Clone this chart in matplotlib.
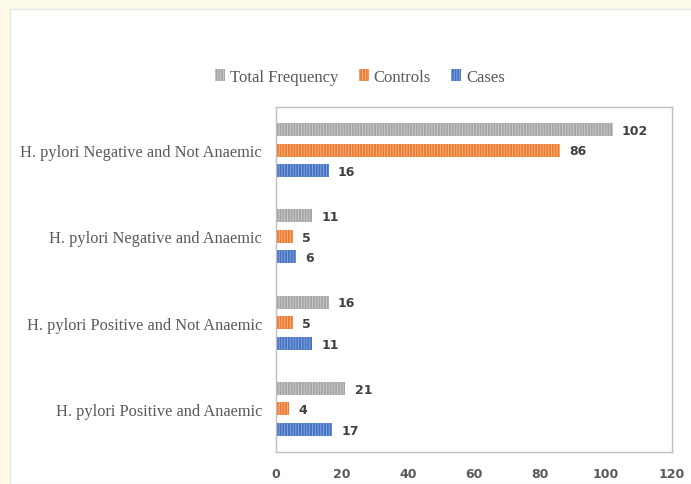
import numpy as np
import matplotlib.pyplot as plt
from matplotlib.patches import Rectangle

categories = ['H. pylori Negative and Not Anaemic',
              'H. pylori Negative and Anaemic',
              'H. pylori Positive and Not Anaemic',
              'H. pylori Positive and Anaemic']
total_freq = [102, 11, 16, 21]
controls = [86, 5, 5, 4]
cases = [16, 6, 11, 17]
xticks = [0, 20, 40, 60, 80, 100, 120]

fig = plt.figure(figsize=(6.91, 4.85), dpi=100)
fig.patch.set_facecolor('#FFFBE9')
fig.patches.append(Rectangle((10 / 691, 0), 1.0, 1 - 10 / 485, transform=fig.transFigure,
                             facecolor='white', edgecolor='#E6E6E6', linewidth=1, zorder=-5))

ax = fig.add_axes([276 / 691, 1 - 453 / 485, (672 - 276) / 691, (453 - 108) / 485])
ax.set_facecolor('white')

y = np.arange(len(categories))
h = 0.15
off = 0.238
plt.rcParams['hatch.linewidth'] = 0.6
series = [
    (total_freq, -off, '#A5A5A5', '#D0D0D0', 'Total Frequency'),
    (controls, 0, '#ED7D31', '#F6B78E', 'Controls'),
    (cases, off, '#4472C4', '#93AEE0', 'Cases'),
]
handles = []
for vals, o, col, hcol, lab in series:
    bars = ax.barh(y + o, vals, height=h, color=col, edgecolor=hcol, hatch='||||||', linewidth=0, label=lab)
    handles.append(bars)
    for yi, v in zip(y + o, vals):
        ax.text(v + 2.8, yi + 0.01, str(v), va='center', ha='left', fontsize=9, fontweight='bold',
                color='#404040', family='DejaVu Sans')

ax.set_ylim(len(categories) - 0.5, -0.5)
ax.set_xlim(0, 120)
ax.set_yticks(y)
ax.set_yticklabels(categories, family='Liberation Serif', fontsize=11.8, color='#595959')
ax.set_xticks(xticks)
ax.set_xticklabels([str(t) for t in xticks], family='DejaVu Sans', fontsize=9,
                   fontweight='bold', color='#595959')
ax.tick_params(axis='both', length=0)
ax.tick_params(axis='x', pad=11)
ax.tick_params(axis='y', pad=10)
for s in ax.spines.values():
    s.set_color('#BFBFBF')
    s.set_linewidth(1)

leg = fig.legend(handles=handles, loc='center', bbox_to_anchor=(360 / 691, 1 - 78 / 485), ncol=3,
                 frameon=False, prop={'family': 'Liberation Serif', 'size': 12},
                 handlelength=0.6, handleheight=0.7, handletextpad=0.3, columnspacing=1.2)
for t in leg.get_texts():
    t.set_color('#595959')

fig.savefig('out.png', dpi=100, facecolor=fig.get_facecolor())
